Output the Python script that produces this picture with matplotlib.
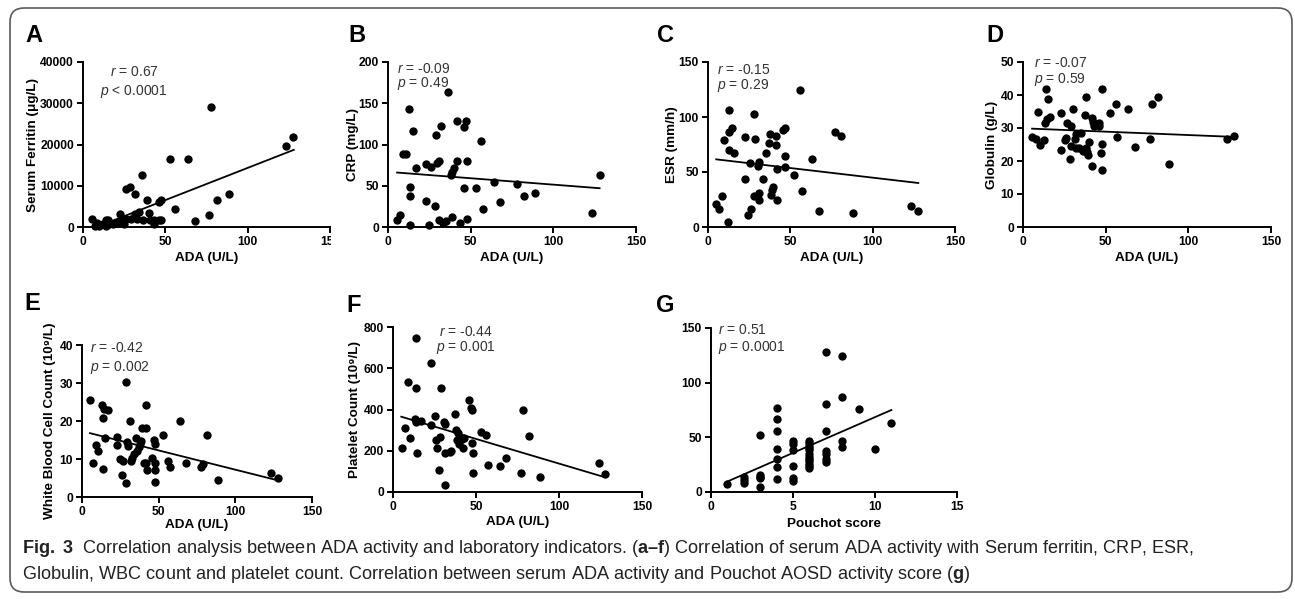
import numpy as np
import matplotlib
matplotlib.use("Agg")
import matplotlib.pyplot as plt
from matplotlib import font_manager
from matplotlib.patches import FancyBboxPatch
from matplotlib.transforms import Bbox, IdentityTransform

# ---- data ----
# A: ADA vs serum ferritin
ferritin_ada = [5.5, 8.5, 7.5, 10, 12, 14, 14, 15, 16, 18, 21, 22.7, 24, 24.7, 26.4, 28.4, 26.4, 29.4,
                31.4, 31.4, 33, 34, 35.7, 36.5, 39, 40, 40.5, 43, 43, 46, 47.6, 46, 47.6, 53, 56, 63.8,
                68, 76.6, 78, 81.5, 88.8, 123, 127.7]
ferritin = [1900, 1000, 200, 200, 650, 150, 1600, 1600, 800, 800, 1200, 3100, 1600, 650, 9100, 9600,
            2000, 2000, 8100, 3200, 2000, 3600, 12600, 1800, 6650, 3400, 1800, 650, 1800, 6150, 6500,
            1800, 1600, 16500, 4400, 16500, 1400, 3000, 29200, 6500, 8100, 19600, 21900]
ferritin_fit_x = [5, 128]
ferritin_fit_y = [-500, 18700]

# B: ADA vs CRP
crp_ada = [5.5, 7, 9, 11, 13, 13.5, 13.5, 13.5, 15, 17, 23, 23, 25, 26, 28.5, 29, 29.5, 31, 31, 32,
           33, 35, 36, 38, 39, 39, 40, 42, 42, 43.5, 46, 47, 46, 48, 48, 53, 56, 57.5, 64, 68,
           78, 82, 89, 123.6, 128]
crp = [9, 15, 89, 89, 143, 3, 49, 38, 116, 71, 32, 76, 3, 73, 26, 112, 78, 80, 8, 123,
       5, 7, 164, 63, 67, 12, 71, 129, 80, 5, 121, 128, 47, 80, 10, 47, 104, 22, 54, 30,
       52, 37, 41, 17, 63]
crp_fit_x = [5.5, 128]
crp_fit_y = [66, 47]

# C: ADA vs ESR
esr_ada = [4.7, 6.5, 8.5, 10, 12.4, 13, 13, 13, 14.6, 16, 22.5, 22.5, 24.5, 25.3, 26.4, 28, 27.8, 28.8,
           30.4, 31, 30.8, 31.2, 33.4, 35, 37, 37.7, 38.5, 39, 39.7, 41, 41.5, 42, 42, 45.6, 46.6,
           47, 46.6, 52.3, 55.7, 56.8, 63.4, 67.5, 77.4, 80.9, 88, 123, 127.5]
esr = [20.7, 16, 28, 79, 4.6, 106, 70, 86, 90, 67.5, 82, 44, 10.7, 58, 16, 102.5, 28, 80,
       55.7, 58.7, 31, 25, 43.5, 67, 76, 85, 29.5, 34, 36.5, 83, 75, 52.6, 25, 88, 90,
       65, 55, 47, 125, 32.5, 62, 14.6, 86, 83, 13, 19, 14.6]
esr_fit_x = [5, 127.7]
esr_fit_y = [61.5, 40]

# D: ADA vs globulin
glob_ada = [5.5, 7.7, 9, 10.5, 12.5, 13.3, 13.8, 14.6, 15.2, 16.6, 23.2, 22.8, 25.5, 26.3, 26.7,
            28.3, 29.3, 29, 30.5, 31.3, 32, 32, 33.8, 34.8, 36, 37.4, 38, 38, 38.8, 40, 39.6, 42,
            42, 42.5, 42.9, 46, 46, 47, 47.5, 47.5, 47.5, 52.6, 56, 56.6, 63.7, 67.7, 76.8, 77.8,
            81.9, 88.4, 123.3, 127.8]
glob = [27.3, 26.7, 34.9, 24.9, 26.3, 31.4, 41.7, 32.7, 38.7, 33.4, 34.4, 23.2, 26.5, 27.1, 31.4,
        20.7, 30.6, 24.4, 35.9, 26.8, 28.3, 23.9, 23.9, 28.5, 22.9, 33.9, 39.5, 23.9, 22.7, 25.8,
        21.7, 32.9, 18.6, 31.7, 30.5, 31.6, 30.5, 22.4, 41.8, 25.2, 17.4, 34.6, 37.2, 27.3, 35.9,
        24.2, 26.7, 37.2, 39.3, 19.1, 26.7, 27.5]
glob_fit_x = [5.5, 127.8]
glob_fit_y = [29.8, 27.3]

# E: ADA vs WBC
wbc_ada = [5.2, 7.4, 9.2, 10.3, 12.9, 13.5, 13.5, 14.4, 15.3, 16.8, 22.7, 22.9, 24.9, 26.2, 27,
           28.4, 28.4, 29.3, 30.1, 31.4, 31.7, 32.7, 34, 35.4, 35.8, 37.1, 38, 38.6, 39.3, 40.2,
           41.5, 41.9, 42.6, 42, 45.8, 46.7, 47.4, 47.4, 47.4, 47.6, 52.8, 56, 57.2, 63.7, 68,
           77.5, 78.6, 81.6, 88.4, 123.3, 127.7]
wbc = [25.6, 8.9, 13.6, 12.1, 24.1, 7.4, 20.7, 23.2, 15.6, 22.9, 15.7, 13.7, 9.9, 5.7, 9.6,
       3.8, 30.3, 14.6, 13.4, 20.1, 9.4, 10.2, 11.4, 15.5, 12.2, 13.1, 14, 14.7, 18.1, 8.9,
       18.1, 24.1, 7.2, 8.9, 10.3, 15, 14, 8.9, 7.2, 3.9, 16.2, 9.6, 8, 19.9, 8.9,
       8, 8.7, 16.2, 4.5, 6.3, 5.1]
wbc_fit_x = [5.2, 127.5]
wbc_fit_y = [16.8, 4.4]

# F: ADA vs platelets
plt_ada = [5.2, 7, 10.5, 9, 13.7, 13.7, 13.1, 13.7, 14.7, 16.7, 22.7, 25.2, 25.8, 26.6, 23.1,
           27.8, 28.6, 29.2, 30.6, 31.2, 31.6, 31.6, 34.2, 35.2, 37.4, 38.2, 38.6, 39.3, 39.9,
           41.3, 41.9, 42.7, 45.9, 46.7, 47.3, 47.3, 47.9, 47.9, 53.1, 56, 57.4, 64.4, 68,
           76.9, 78.1, 81.9, 88.6, 123.8, 127.8]
plt_count = [215, 308, 262, 534, 747, 502, 352, 339, 188, 345, 324, 369, 252, 215, 626,
             108, 265, 502, 340, 191, 332, 35, 194, 201, 376, 300, 252, 284, 231,
             255, 212, 263, 448, 408, 397, 236, 191, 92, 289, 276, 132, 127, 164,
             92, 400, 273, 75, 140, 88]
plt_fit_x = [5, 127.5]
plt_fit_y = [365, 72]

# G: Pouchot score vs ADA
pouchot = [1, 2, 2, 2, 3, 3, 3, 3, 3, 4, 4, 4, 4, 4, 4, 4, 5, 5, 5, 5, 5, 5,
           6, 6, 6, 6, 6, 6, 6, 6, 6, 6, 6, 6, 7, 7, 7, 7, 7, 7, 7, 8, 8, 8, 8, 9, 10, 11]
pouchot_ada = [7, 14, 11, 8, 52, 16, 14, 12.5, 5, 77, 67, 56, 39.5, 30, 22.5, 12,
               46.5, 44, 38, 24, 12.5, 10, 47, 45, 42, 40, 38, 35, 32, 30, 28, 26, 24, 22,
               128.5, 80.5, 55.5, 37.5, 34.5, 30.5, 27.5, 124, 87, 46.5, 41, 76, 39, 63]
pouchot_fit_x = [1, 11]
pouchot_fit_y = [9.6, 75]

# ---- fonts ----
names = {f.name for f in font_manager.fontManager.ttflist}
cap_font = "Liberation Sans Narrow" if "Liberation Sans Narrow" in names else "Liberation Sans"
plt.rcParams["font.family"] = ["Liberation Sans", "DejaVu Sans"]
plt.rcParams["mathtext.fontset"] = "custom"
plt.rcParams["mathtext.rm"] = "Liberation Sans"
plt.rcParams["mathtext.it"] = "Liberation Sans:italic"
plt.rcParams["mathtext.bf"] = cap_font + ":bold"

W, H = 1295, 599
fig = plt.figure(figsize=(W / 100, H / 100), dpi=100)


def fx(px):
    return px / W


def fy(py):
    return 1 - py / H


# outer rounded frame
frame = FancyBboxPatch((10, H - 592), 1282, 584, boxstyle="round,pad=0,rounding_size=14",
                       transform=IdentityTransform(), fc="white", ec="#5a5a5a", lw=1.2, zorder=-5)
fig.add_artist(frame)


def panel(rect, x, y, fit_x, fit_y, xmax, xstep, ymax, ystep, ylabel, xlabel, ylab_x, xlab_y):
    l, t, r, b = rect
    ax = fig.add_axes([fx(l), fy(b), (r - l) / W, (b - t) / H])
    ax.patch.set_alpha(0)
    ax.plot(fit_x, fit_y, color="black", lw=1.3, zorder=2)
    ax.scatter(x, y, s=36, color="black", linewidths=0, clip_on=False, zorder=3)
    ax.set_xlim(0, xmax)
    ax.set_ylim(0, ymax)
    xt = list(range(0, xmax + 1, xstep))
    yt = list(range(0, ymax + 1, ystep))
    ax.set_xticks(xt, labels=[str(v) for v in xt])
    ax.set_yticks(yt, labels=[str(v) for v in yt])
    for s in ["top", "right"]:
        ax.spines[s].set_visible(False)
    for s in ["left", "bottom"]:
        ax.spines[s].set_linewidth(1.4)
    ax.tick_params(direction="out", length=4.5, width=1.4, labelsize=8.7, pad=2, colors="black")
    for lab in ax.get_xticklabels() + ax.get_yticklabels():
        lab.set_fontweight("bold")
    if ylabel:
        ax.set_ylabel(ylabel, fontsize=9.7, fontweight="bold", va="center")
        ax.yaxis.set_label_coords((ylab_x - l) / (r - l), 0.5)
    ax.set_xlabel(xlabel, fontsize=9.7, fontweight="bold", va="center")
    ax.xaxis.set_label_coords(0.5, (b - xlab_y) / (b - t))
    return ax


ax_a = panel((83, 62, 330, 227), ferritin_ada, ferritin, ferritin_fit_x, ferritin_fit_y,
             150, 50, 40000, 10000, "Serum Ferritin (μg/L)", "ADA (U/L)", 33, 258)
panel((388, 62, 636, 227), crp_ada, crp, crp_fit_x, crp_fit_y,
      150, 50, 200, 50, "CRP (mg/L)", "ADA (U/L)", 353, 258)
panel((708, 62, 955, 227), esr_ada, esr, esr_fit_x, esr_fit_y,
      150, 50, 150, 50, "ESR (mm/h)", "ADA (U/L)", 672, 258)
panel((1023, 62, 1271, 227), glob_ada, glob, glob_fit_x, glob_fit_y,
      150, 50, 50, 10, "Globulin (g/L)", "ADA (U/L)", 992, 258)
panel((82, 345, 312, 497), wbc_ada, wbc, wbc_fit_x, wbc_fit_y,
      150, 50, 40, 10, "White Blood Cell Count (10⁹/L)", "ADA (U/L)", 50, 525)
panel((393, 327, 642, 492), plt_ada, plt_count, plt_fit_x, plt_fit_y,
      150, 50, 800, 200, "Platelet Count (10⁹/L)", "ADA (U/L)", 355, 522)
panel((711, 328, 957, 492), pouchot, pouchot_ada, pouchot_fit_x, pouchot_fit_y,
      15, 5, 150, 50, None, "Pouchot score", 0, 524)

# the "150" of panel A is cut off in the original
lab = ax_a.get_xticklabels()[-1]
lab.set_clip_on(True)
lab.set_clip_box(Bbox.from_extents(0, 0, 331, H))

# panel letters
for letter, px, py in [("A", 34, 35), ("B", 357, 35), ("C", 665, 35), ("D", 995, 35),
                       ("E", 32, 303), ("F", 354, 305), ("G", 665, 305)]:
    fig.text(fx(px), fy(py), letter, fontsize=17, fontweight="bold", ha="center", va="center")

# r / p annotations
stats = [("0.67", "< 0.0001", 134, 72, 91, "center"),
         ("-0.09", "= 0.49", 397, 69, 84, "left"),
         ("-0.15", "= 0.29", 717, 70, 86, "left"),
         ("-0.07", "= 0.59", 1034, 63, 80, "left"),
         ("-0.42", "= 0.002", 90, 348, 367, "left"),
         ("-0.44", "= 0.001", 466, 332, 348, "center"),
         ("0.51", "= 0.0001", 718, 330, 348, "left")]
for rv, pv, px, ry, py, ha in stats:
    fig.text(fx(px), fy(ry), "$r$ = " + rv, fontsize=10, color="#333333", ha=ha, va="center")
    fig.text(fx(px), fy(py), "$p$ " + pv, fontsize=10, color="#333333", ha=ha, va="center")

# caption
line1 = (r"$\mathbf{Fig.\ 3}$  Correlation analysis between ADA activity and laboratory indicators. "
         r"($\mathbf{a–f}$) Correlation of serum ADA activity with Serum ferritin, CRP, ESR,")
line2 = (r"Globulin, WBC count and platelet count. Correlation between serum ADA activity and "
         r"Pouchot AOSD activity score ($\mathbf{g}$)")
renderer = fig.canvas.get_renderer()
probe = fig.text(0, 0, line1, fontsize=11, family=cap_font)
cap_size = 11 * 1168 / probe.get_window_extent(renderer).width
probe.remove()
fig.text(fx(22), fy(553), line1, fontsize=cap_size, family=cap_font, color="#222222", va="baseline")
fig.text(fx(22), fy(579), line2, fontsize=cap_size, family=cap_font, color="#222222", va="baseline")

fig.savefig("out.png", dpi=100)
